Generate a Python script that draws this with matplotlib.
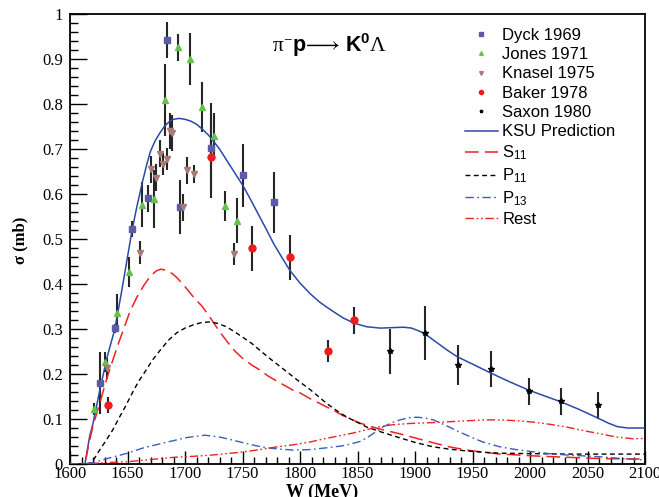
import numpy as np
import matplotlib
matplotlib.use("Agg")
import matplotlib.pyplot as plt
from matplotlib.ticker import MultipleLocator, FuncFormatter

# ---- data ----
dyck_w = [1626, 1639, 1654, 1668, 1684, 1696, 1723, 1750, 1777]
dyck_s = [0.180, 0.302, 0.522, 0.591, 0.942, 0.571, 0.702, 0.642, 0.582]
dyck_e = [0.068, 0.010, 0.018, 0.030, 0.040, 0.060, 0.100, 0.070, 0.068]

jones_w = [1621, 1630, 1641, 1651, 1663, 1673, 1683, 1694, 1704, 1715, 1725, 1735, 1745]
jones_s = [0.122, 0.227, 0.336, 0.427, 0.576, 0.589, 0.809, 0.926, 0.900, 0.793, 0.729, 0.574, 0.540]
jones_e = [0.013, 0.022, 0.042, 0.033, 0.050, 0.065, 0.080, 0.030, 0.057, 0.056, 0.050, 0.033, 0.050]

knasel_w = [1632, 1661, 1670, 1675, 1678, 1681, 1684, 1687, 1689, 1698, 1702, 1708, 1743]
knasel_s = [0.213, 0.470, 0.655, 0.636, 0.689, 0.667, 0.678, 0.740, 0.736, 0.571, 0.653, 0.644, 0.467]
knasel_e = [0.023, 0.025, 0.030, 0.030, 0.030, 0.025, 0.025, 0.040, 0.040, 0.030, 0.030, 0.020, 0.025]

baker_w = [1633, 1723, 1758, 1791, 1824, 1847]
baker_s = [0.131, 0.682, 0.480, 0.460, 0.251, 0.320]
baker_e = [0.018, 0.090, 0.050, 0.050, 0.025, 0.030]

saxon_w = [1878, 1909, 1937, 1966, 1999, 2027, 2059]
saxon_s = [0.251, 0.291, 0.220, 0.211, 0.162, 0.140, 0.131]
saxon_e = [0.050, 0.060, 0.045, 0.040, 0.030, 0.030, 0.030]

# model curves, read point by point
ksu_w = [1600, 1613, 1617, 1620, 1626, 1632, 1639, 1645, 1650, 1654, 1658, 1663, 1667, 1670,
         1674, 1678, 1682, 1686, 1690, 1695, 1700, 1705, 1710, 1716, 1720, 1724, 1730, 1736,
         1743, 1751, 1758, 1765, 1771, 1777, 1784, 1791, 1800, 1809, 1817, 1823, 1830, 1838,
         1847, 1858, 1870, 1880, 1890, 1897, 1905, 1912, 1920, 1928, 1937, 1950, 1966, 1982,
         1999, 2013, 2027, 2043, 2059, 2068, 2076, 2085, 2100]
ksu_s = [0.0, 0.0, 0.060, 0.090, 0.165, 0.235, 0.300, 0.385, 0.460, 0.520, 0.570, 0.627, 0.668,
         0.695, 0.718, 0.735, 0.750, 0.760, 0.766, 0.768, 0.766, 0.762, 0.755, 0.742, 0.732,
         0.720, 0.700, 0.676, 0.648, 0.616, 0.583, 0.549, 0.520, 0.490, 0.460, 0.431, 0.402,
         0.378, 0.360, 0.349, 0.337, 0.324, 0.313, 0.305, 0.302, 0.303, 0.304, 0.302, 0.294,
         0.283, 0.268, 0.253, 0.238, 0.222, 0.202, 0.183, 0.164, 0.151, 0.138, 0.121, 0.102,
         0.091, 0.083, 0.080, 0.080]

s11_w = [1600, 1613, 1616, 1620, 1626, 1632, 1641, 1652, 1658, 1664, 1670, 1675, 1679, 1684,
         1689, 1693, 1700, 1707, 1715, 1722, 1729, 1736, 1743, 1750, 1758, 1765, 1772, 1780,
         1787, 1794, 1800, 1809, 1816, 1823, 1830, 1837, 1844, 1852, 1862, 1872, 1887, 1900,
         1916, 1930, 1945, 1960, 1974, 1990, 2003, 2032, 2061, 2100]
s11_s = [0.0, 0.0, 0.040, 0.085, 0.136, 0.190, 0.260, 0.338, 0.370, 0.396, 0.418, 0.429, 0.433,
         0.430, 0.423, 0.414, 0.394, 0.372, 0.350, 0.325, 0.298, 0.274, 0.252, 0.235, 0.220,
         0.209, 0.196, 0.184, 0.174, 0.164, 0.158, 0.145, 0.136, 0.127, 0.118, 0.108, 0.100,
         0.091, 0.083, 0.076, 0.067, 0.058, 0.047, 0.038, 0.031, 0.026, 0.022, 0.020, 0.018,
         0.015, 0.012, 0.011]

p11_w = [1600, 1613, 1619, 1625, 1630, 1637, 1643, 1648, 1655, 1660, 1665, 1672, 1680, 1686,
         1693, 1700, 1707, 1714, 1722, 1729, 1736, 1743, 1750, 1758, 1765, 1772, 1780, 1787,
         1794, 1800, 1809, 1816, 1823, 1830, 1837, 1844, 1852, 1858, 1872, 1887, 1900, 1916,
         1930, 1945, 1960, 1974, 2003, 2032, 2100]
p11_s = [0.0, 0.0, 0.003, 0.028, 0.047, 0.075, 0.104, 0.127, 0.162, 0.185, 0.204, 0.232, 0.258,
         0.276, 0.292, 0.302, 0.309, 0.314, 0.316, 0.312, 0.305, 0.294, 0.282, 0.268, 0.253,
         0.238, 0.222, 0.208, 0.194, 0.182, 0.165, 0.150, 0.135, 0.122, 0.110, 0.100, 0.090,
         0.082, 0.070, 0.058, 0.048, 0.038, 0.033, 0.029, 0.026, 0.024, 0.023, 0.022, 0.022]

p13_w = [1600, 1613, 1620, 1635, 1650, 1664, 1685, 1702, 1717, 1730, 1740, 1751, 1761, 1771,
         1783, 1794, 1809, 1823, 1836, 1845, 1852, 1858, 1865, 1872, 1880, 1887, 1895, 1902,
         1909, 1916, 1923, 1930, 1937, 1945, 1952, 1959, 1974, 1988, 2003, 2017, 2032, 2061,
         2080, 2100]
p13_s = [0.0, 0.0, 0.003, 0.014, 0.024, 0.036, 0.049, 0.059, 0.064, 0.060, 0.054, 0.047, 0.041,
         0.036, 0.033, 0.031, 0.032, 0.036, 0.040, 0.045, 0.050, 0.058, 0.070, 0.082, 0.092,
         0.098, 0.103, 0.104, 0.102, 0.098, 0.090, 0.082, 0.073, 0.064, 0.056, 0.049, 0.038,
         0.032, 0.027, 0.023, 0.020, 0.016, 0.012, 0.009]

rest_w = [1600, 1613, 1630, 1650, 1670, 1691, 1707, 1724, 1740, 1751, 1765, 1780, 1795, 1809,
          1823, 1837, 1850, 1865, 1880, 1895, 1916, 1930, 1945, 1960, 1974, 1990, 2003, 2018,
          2032, 2047, 2061, 2075, 2090, 2100]
rest_s = [0.0, 0.0, 0.003, 0.005, 0.010, 0.015, 0.017, 0.020, 0.024, 0.027, 0.032, 0.038, 0.043,
          0.049, 0.057, 0.064, 0.071, 0.081, 0.087, 0.090, 0.092, 0.094, 0.096, 0.098, 0.098,
          0.096, 0.093, 0.088, 0.082, 0.074, 0.067, 0.060, 0.056, 0.057]

plt.rcParams['font.family'] = ['Liberation Serif', 'DejaVu Serif']
plt.rcParams['mathtext.fontset'] = 'custom'
plt.rcParams['mathtext.rm'] = 'Liberation Serif'
plt.rcParams['mathtext.it'] = 'Liberation Serif:italic'
plt.rcParams['mathtext.bf'] = 'Liberation Sans:bold'
plt.rcParams['mathtext.sf'] = 'Liberation Sans'

fig = plt.figure(figsize=(6.59, 4.97), dpi=100)
ax = fig.add_axes([70/659, 33/497, 575/659, 450/497])

ebkw = dict(fmt='none', ecolor='#262626', elinewidth=1.5, capsize=0, zorder=2)
ax.errorbar(dyck_w, dyck_s, yerr=dyck_e, **ebkw)
ax.errorbar(jones_w, jones_s, yerr=jones_e, **ebkw)
ax.errorbar(knasel_w, knasel_s, yerr=knasel_e, **ebkw)
ax.errorbar(baker_w, baker_s, yerr=baker_e, **ebkw)
ax.errorbar(saxon_w, saxon_s, yerr=saxon_e, **ebkw)

ax.plot(dyck_w, dyck_s, ls='none', marker='s', ms=5, color='#5b5ba8', label='Dyck 1969', zorder=4)
ax.plot(jones_w, jones_s, ls='none', marker='^', ms=4.5, color='#66c24a', label='Jones 1971', zorder=4)
ax.plot(knasel_w, knasel_s, ls='none', marker='v', ms=4.5, color='#a87a78', label='Knasel 1975', zorder=4)
ax.plot(baker_w, baker_s, ls='none', marker='o', ms=5, color='#ee1c1c', label='Baker 1978', zorder=4)
ax.plot(saxon_w, saxon_s, ls='none', marker='*', ms=4, color='black', label='Saxon 1980', zorder=4)

ax.plot(ksu_w, ksu_s, color='#2a4aa8', lw=1.1, label='KSU Prediction', zorder=3)
ax.plot(s11_w, s11_s, color='#ee2222', lw=1.1, dashes=(9, 4), label=r'S$_{\mathsf{11}}$', zorder=3)
ax.plot(p11_w, p11_s, color='black', lw=1.0, dashes=(3.5, 2.5), label=r'P$_{\mathsf{11}}$', zorder=3)
ax.plot(p13_w, p13_s, color='#3a5cc0', lw=1.0, dashes=(6, 2.5, 1.2, 2.5), label=r'P$_{\mathsf{13}}$', zorder=3)
ax.plot(rest_w, rest_s, color='#ee2222', lw=1.0, dashes=(6, 2, 1.2, 2, 1.2, 2), label='Rest', zorder=3)

ax.set_xlim(1600, 2100)
ax.set_ylim(0, 1)
ax.xaxis.set_major_locator(MultipleLocator(50))
ax.xaxis.set_minor_locator(MultipleLocator(10))
ax.yaxis.set_major_locator(MultipleLocator(0.1))
ax.yaxis.set_minor_locator(MultipleLocator(0.02))
ax.yaxis.set_major_formatter(FuncFormatter(lambda v, p: '%g' % round(v, 2)))
ax.tick_params(axis='x', which='major', direction='in', length=9.5, width=1.0, labelsize=12, pad=1.5)
ax.tick_params(axis='x', which='minor', direction='in', length=5, width=1.0)
ax.tick_params(axis='y', which='major', direction='in', length=12.5, width=1.0, labelsize=12, pad=5)
ax.tick_params(axis='y', which='minor', direction='in', length=6, width=1.0)
for sp in ax.spines.values():
    sp.set_linewidth(1.3)

fig.text(20/659, 1 - 240/497, 'σ (mb)', rotation=90, ha='center', va='center',
         fontsize=12, fontweight='bold')
fig.text(322/659, 1 - 492/497, 'W (MeV)', ha='center', va='center', fontsize=13, fontweight='bold')
ax.text(1826, 0.931, r'$\mathrm{\pi}^{-}\mathbf{p}\!\longrightarrow\,\mathbf{K^{0}}\Lambda$', ha='center',
        va='center', fontsize=15.5)

leg = ax.legend(loc='upper left', bbox_to_anchor=(458/659, 1 - 21/497), bbox_transform=fig.transFigure,
                frameon=False, handlelength=2.0, handletextpad=0.25, labelspacing=0.26,
                markerscale=0.6, borderaxespad=0, prop={'family': 'Liberation Sans', 'size': 12})

fig.savefig('out.png', dpi=100)
